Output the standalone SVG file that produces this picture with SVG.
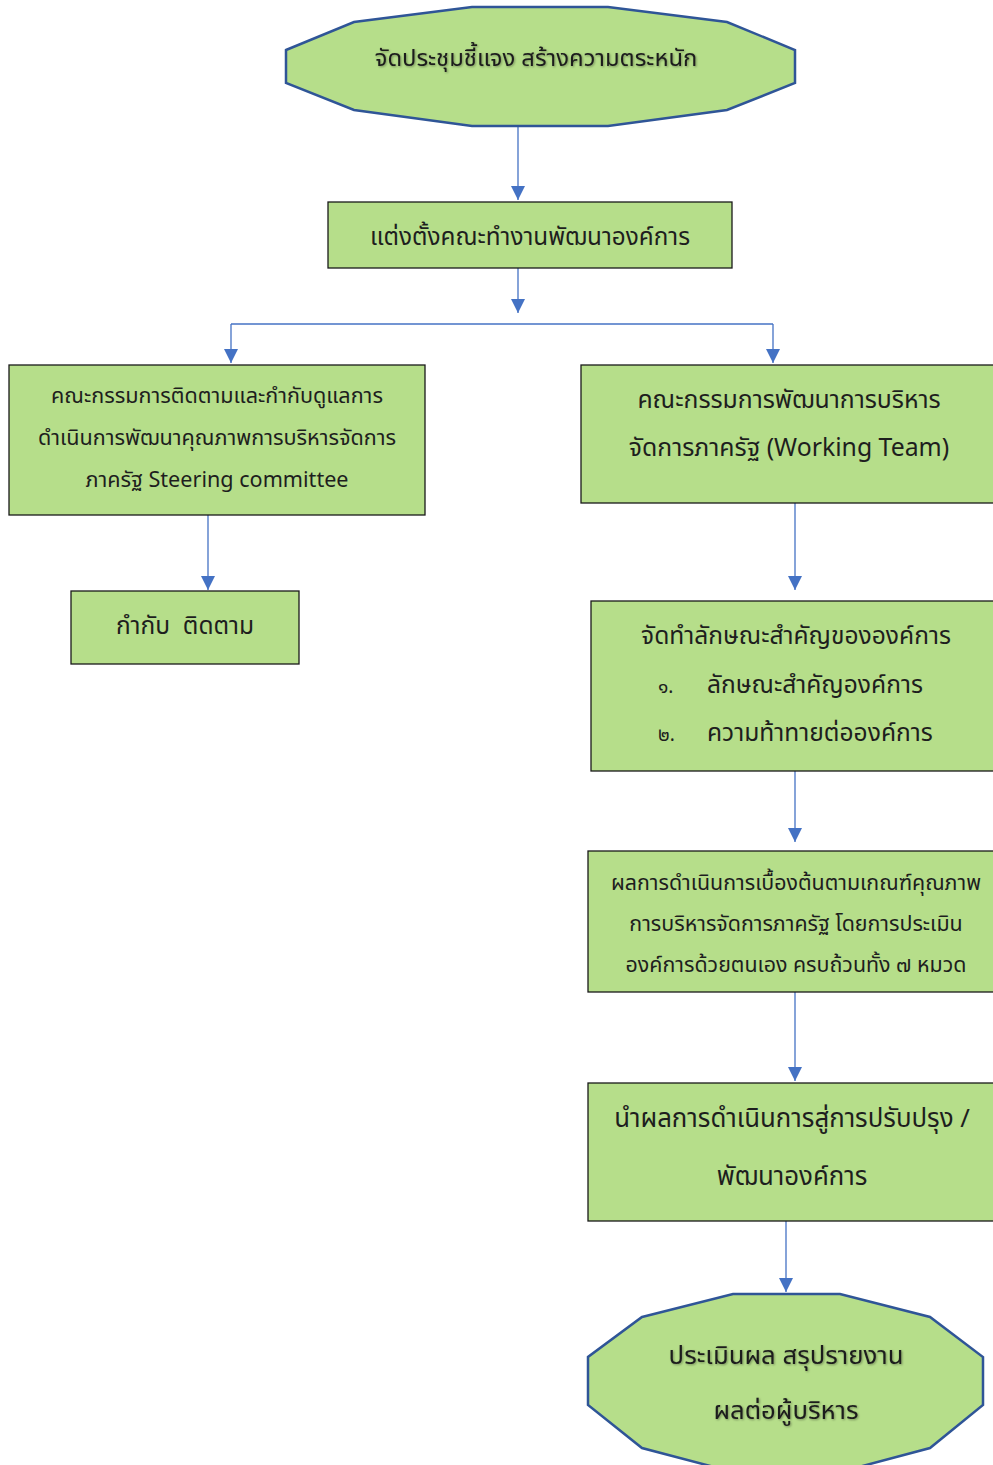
<svg xmlns="http://www.w3.org/2000/svg" width="993" height="1465" viewBox="0 0 993 1465">
<defs>
<style>
.oct{fill:#b6de8a;stroke:#2f5597;stroke-width:2.5}
.box{fill:#b6de8a;stroke:#1a1a1a;stroke-width:1.3}
.t{font-family:"Noto Sans Thai","Noto Sans","DejaVu Sans",sans-serif;fill:#1e1e1e;text-anchor:middle}
.tl{font-family:"Noto Sans Thai","Noto Sans","DejaVu Sans",sans-serif;fill:#1e1e1e}
.sh{filter:url(#shadow)}
.c{fill:none;stroke:#4472c4;stroke-width:1.3}
</style>
<filter id="shadow" x="-5%" y="-30%" width="110%" height="160%">
<feDropShadow dx="1" dy="1" stdDeviation="0.8" flood-color="#000000" flood-opacity="0.35"/>
</filter>
<marker id="ahL" viewBox="0 0 14 14" refX="14" refY="7" markerWidth="14" markerHeight="14" markerUnits="userSpaceOnUse" orient="auto">
<path d="M0,0 L14,7 L0,14 Z" fill="#4472c4"/>
</marker>
</defs>
<rect width="993" height="1465" fill="#ffffff"/>
<g id="connectors">
<path class="c" d="M518,126 V200" marker-end="url(#ahL)"/>
<path class="c" d="M518,268 V313" marker-end="url(#ahL)"/>
<path class="c" d="M231,324 H773"/>
<path class="c" d="M231,324 V363" marker-end="url(#ahL)"/>
<path class="c" d="M773,324 V363" marker-end="url(#ahL)"/>
<path class="c" d="M208,515 V590" marker-end="url(#ahL)"/>
<path class="c" d="M795,503 V590" marker-end="url(#ahL)"/>
<path class="c" d="M795,771 V842" marker-end="url(#ahL)"/>
<path class="c" d="M795,992 V1081" marker-end="url(#ahL)"/>
<path class="c" d="M786,1221 V1292" marker-end="url(#ahL)"/>
</g>
<g id="n1">
<polygon class="oct" points="286,50 354,22 472,7 608,7 727,22 795,50 795,83 727,110 608,126 472,126 354,110 286,83"/>
<text class="t sh" x="536" y="66" font-size="23.8">จัดประชุมชี้แจง สร้างความตระหนัก</text>
</g>
<g id="n2">
<rect class="box" x="328" y="202" width="404" height="66"/>
<text class="t" x="530" y="245" font-size="24.3">แต่งตั้งคณะทำงานพัฒนาองค์การ</text>
</g>
<g id="n3">
<rect class="box" x="9" y="365" width="416" height="150"/>
<text class="t" x="217" y="403" font-size="21.6">คณะกรรมการติดตามและกำกับดูแลการ</text>
<text class="t" x="217" y="445" font-size="21.6">ดำเนินการพัฒนาคุณภาพการบริหารจัดการ</text>
<text class="t" x="217" y="487" font-size="21.6">ภาครัฐ Steering committee</text>
</g>
<g id="n4">
<rect class="box" x="581" y="365" width="420" height="138"/>
<text class="t" x="789" y="408" font-size="24.8">คณะกรรมการพัฒนาการบริหาร</text>
<text class="t" x="789" y="456" font-size="24.8">จัดการภาครัฐ (Working Team)</text>
</g>
<g id="n5">
<rect class="box" x="71" y="591" width="228" height="73"/>
<text class="t" x="185" y="634" font-size="24.5" xml:space="preserve">กำกับ  ติดตาม</text>
</g>
<g id="n6">
<rect class="box" x="591" y="601" width="410" height="170"/>
<text class="t" x="796" y="644" font-size="24.6">จัดทำลักษณะสำคัญขององค์การ</text>
<text class="tl" x="658" y="693" font-size="19">๑.</text>
<text class="tl" x="707" y="693" font-size="24.6">ลักษณะสำคัญองค์การ</text>
<text class="tl" x="658" y="741" font-size="19">๒.</text>
<text class="tl" x="707" y="741" font-size="24.6">ความท้าทายต่อองค์การ</text>
</g>
<g id="n7">
<rect class="box" x="588" y="851" width="413" height="141"/>
<text class="t" x="796" y="890" font-size="21.4">ผลการดำเนินการเบื้องต้นตามเกณฑ์คุณภาพ</text>
<text class="t" x="796" y="931" font-size="21.4">การบริหารจัดการภาครัฐ โดยการประเมิน</text>
<text class="t" x="796" y="972" font-size="21.4">องค์การด้วยตนเอง ครบถ้วนทั้ง ๗ หมวด</text>
</g>
<g id="n8">
<rect class="box" x="588" y="1083" width="413" height="138"/>
<text class="t" x="792" y="1127" font-size="25.8">นำผลการดำเนินการสู่การปรับปรุง /</text>
<text class="t" x="792" y="1185" font-size="25.8">พัฒนาองค์การ</text>
</g>
<g id="n9">
<polygon class="oct" points="642,1317 733,1294 840,1294 930,1317 983,1357 983,1405 930,1448 840,1472 733,1472 642,1448 588,1405 588,1357"/>
<text class="t sh" x="786" y="1364" font-size="25.7">ประเมินผล สรุปรายงาน</text>
<text class="t sh" x="786" y="1419" font-size="25.7">ผลต่อผู้บริหาร</text>
</g>
</svg>
